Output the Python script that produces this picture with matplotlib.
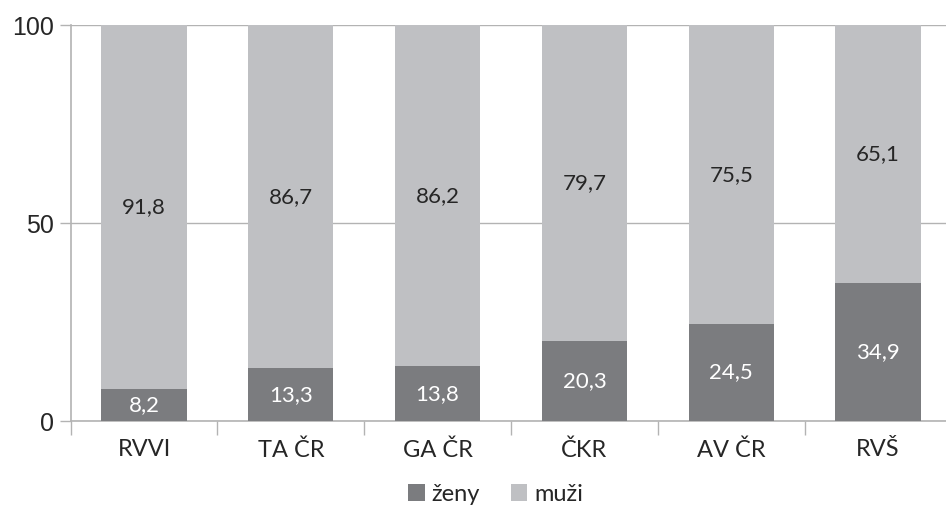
import numpy as np
import matplotlib.pyplot as plt

categories = ["RVVI", "TA ČR", "GA ČR", "ČKR", "AV ČR", "RVŠ"]
zeny = [8.2, 13.3, 13.8, 20.3, 24.5, 34.9]
muzi = [91.8, 86.7, 86.2, 79.7, 75.5, 65.1]

dark = "#7b7c7f"
light = "#bfc0c3"
axis_col = "#b3b3b3"
text_col = "#262626"

plt.rcParams["font.family"] = ["Lato", "DejaVu Sans"]

fig = plt.figure(figsize=(9.46, 5.16), dpi=100)
ax = fig.add_axes([0.0747, 0.184, 0.931, 0.767])

x = np.arange(len(categories))
w = 0.58
b1 = ax.bar(x, zeny, w, color=dark, label="ženy", zorder=3)
b2 = ax.bar(x, muzi, w, bottom=zeny, color=light, label="muži", zorder=3)

fmt = lambda v: f"{v:.1f}".replace(".", ",")
for xi, z, m in zip(x, zeny, muzi):
    ax.text(xi, z / 2, fmt(z), ha="center", va="center", color="white", fontsize=16, zorder=4)
    ax.text(xi, z + m / 2, fmt(m), ha="center", va="center", color=text_col, fontsize=16, zorder=4)

ax.set_xlim(-0.5, len(categories) - 0.5)
ax.set_ylim(0, 100)
ax.set_yticks([0, 50, 100])
ax.set_yticklabels(["0", "50", "100"], fontsize=18, color=text_col,
                   family=["Liberation Sans", "DejaVu Sans"])
ax.yaxis.grid(True, color=axis_col, linewidth=1, zorder=0)

ax.set_xticks(x)
ax.set_xticklabels(categories, fontsize=17, color=text_col)
ax.tick_params(axis="x", length=0, pad=13)
ax.set_xticks(np.arange(len(categories) + 1) - 0.5, minor=True)
ax.tick_params(axis="x", which="minor", length=10, color=axis_col, width=1)
ax.tick_params(axis="y", length=8, color=axis_col, width=1, pad=4)

for s in ["top", "right"]:
    ax.spines[s].set_visible(False)
for s in ["left", "bottom"]:
    ax.spines[s].set_color(axis_col)
    ax.spines[s].set_linewidth(1.2)

fig.legend(handles=[b1, b2], loc="center", bbox_to_anchor=(0.524, 0.042), ncol=2,
           frameon=False, fontsize=17, handlelength=0.7, handleheight=0.7,
           handletextpad=0.3, columnspacing=1.3, labelcolor=text_col)

fig.savefig("out.png", dpi=100)
